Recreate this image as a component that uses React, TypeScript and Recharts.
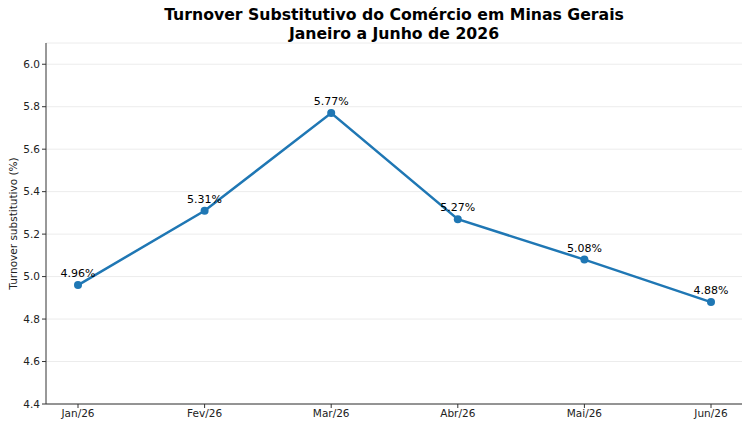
import {
  CartesianGrid,
  LabelList,
  Line,
  LineChart,
  XAxis,
  YAxis,
} from "recharts";

const BLUE = "#1f77b4";
const INK = "#222222";
const AXIS = "#333333";
const GRID = "#ececec";
const FONT = "DejaVu Sans, sans-serif";

const months = ["Jan/26", "Fev/26", "Mar/26", "Abr/26", "Mai/26", "Jun/26"];
const turnover = [4.96, 5.31, 5.77, 5.27, 5.08, 4.88];
const yTicks = [4.4, 4.6, 4.8, 5.0, 5.2, 5.4, 5.6, 5.8, 6.0];

const data = months.map((m, i) => ({ month: m, value: turnover[i] }));

export default function App() {
  return (
    <div
      style={{
        position: "absolute",
        left: 0,
        top: 0,
        width: 750,
        height: 430,
        background: "#fff",
        fontFamily: FONT,
      }}
    >
      <div
        style={{
          position: "absolute",
          left: 46,
          width: 696,
          top: 5,
          textAlign: "center",
          fontWeight: "bold",
          fontSize: 15.7,
          lineHeight: "19px",
          color: "#000",
        }}
      >
        Turnover Substitutivo do Comércio em Minas Gerais
        <br />
        Janeiro a Junho de 2026
      </div>
      <LineChart
        width={750}
        height={430}
        data={data}
        margin={{ top: 43, right: 8, left: 0, bottom: 0 }}
      >
        <CartesianGrid stroke={GRID} vertical={false} />
        <XAxis
          dataKey="month"
          padding={{ left: 32, right: 31 }}
          height={26}
          tick={{ fontSize: 10.5, fill: INK, fontFamily: FONT }}
          tickLine={{ stroke: AXIS }}
          tickSize={4}
          axisLine={{ stroke: AXIS }}
        />
        <XAxis
          xAxisId="top"
          dataKey="month"
          orientation="top"
          height={0}
          tick={false}
          tickLine={false}
          axisLine={{ stroke: AXIS }}
        />
        <YAxis
          domain={[4.4, 6.1]}
          ticks={yTicks}
          width={46}
          tickFormatter={(v: number) => v.toFixed(1)}
          tick={{ fontSize: 10.5, fill: INK, fontFamily: FONT }}
          tickLine={{ stroke: AXIS }}
          tickSize={4}
          axisLine={{ stroke: AXIS }}
          label={{
            value: "Turnover substitutivo (%)",
            angle: -90,
            position: "center",
            dx: -10,
            style: { fontSize: 10.5, fill: INK, fontFamily: FONT },
          }}
        />
        <YAxis
          yAxisId="right"
          orientation="right"
          domain={[4.4, 6.1]}
          width={0}
          tick={false}
          tickLine={false}
          axisLine={{ stroke: AXIS }}
        />
        <Line
          dataKey="value"
          stroke={BLUE}
          strokeWidth={2.5}
          dot={{ r: 4, fill: BLUE, stroke: BLUE, strokeWidth: 0 }}
          isAnimationActive={false}
        >
          <LabelList
            dataKey="value"
            position="top"
            offset={8}
            formatter={(v: number) => `${v.toFixed(2)}%`}
            style={{ fontSize: 11, fill: "#000", fontFamily: FONT }}
          />
        </Line>
      </LineChart>
    </div>
  );
}
